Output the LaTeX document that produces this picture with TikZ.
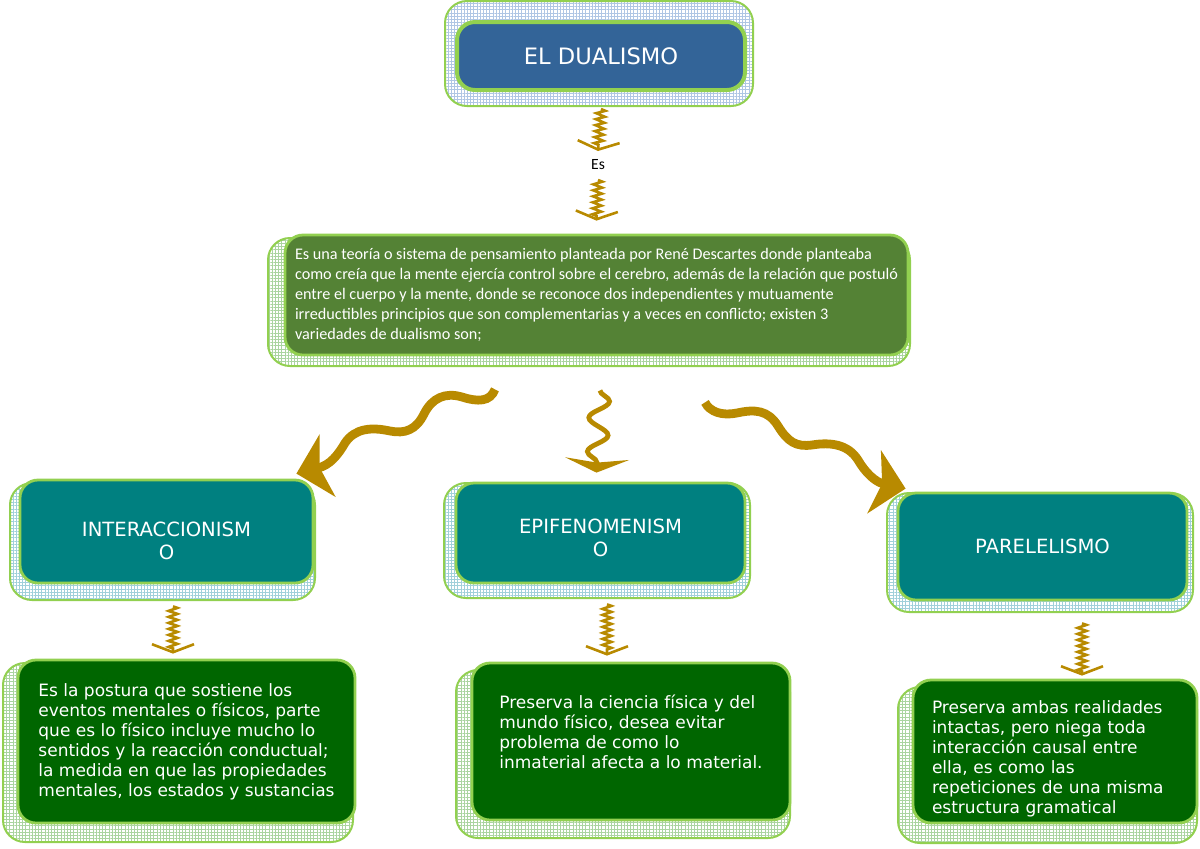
\documentclass[tikz,border=0pt]{standalone}
\usepackage{fontspec}
\setmainfont{DejaVu Sans}
\newfontfamily\calibri{Carlito}
\usetikzlibrary{arrows.meta,decorations.pathmorphing,patterns.meta}

\definecolor{lightgreen}{RGB}{146,208,80}
\definecolor{arrowgold}{RGB}{184,138,0}
\definecolor{titleblue}{RGB}{51,100,152}
\definecolor{olivegreen}{RGB}{84,130,53}
\definecolor{tealbox}{RGB}{0,128,128}
\definecolor{darkgreen}{RGB}{0,102,0}
\definecolor{hatchblue}{RGB}{175,198,228}
\definecolor{hatchteal}{RGB}{160,208,218}
\definecolor{hatchgreen}{RGB}{170,212,160}

\begin{document}
\begin{tikzpicture}[x=0.5pt,y=-0.5pt,
  back/.style={draw=lightgreen, line width=1pt, rounded corners=11pt,
    pattern={Hatch[distance=1.6pt,angle=0,line width=0.2pt]}},
  box/.style={draw=lightgreen, line width=1.4pt, rounded corners=9pt,
    text=white, inner sep=0pt, align=left},
  headbox/.style={box, fill=tealbox, align=center, text width=140pt,
    font=\fontsize{9.8pt}{11.5pt}\selectfont},
  defbox/.style={box, fill=darkgreen,
    font=\fontsize{8.5pt}{10pt}\selectfont},
  zz/.style={draw=arrowgold, line width=1.3pt, decorate,
    decoration={zigzag, segment length=3pt, amplitude=2.2pt, post length=2pt},
    -{Straight Barb[width=21pt,length=4pt]}},
  wave/.style={draw=arrowgold, line width=4.4pt,
    -{Stealth[length=16pt,width=32pt,inset=4pt]}},
  snakearrow/.style={draw=arrowgold, line width=2.4pt, decorate,
    decoration={snake, segment length=17pt, amplitude=5pt, post length=5pt},
    -{Stealth[length=7pt,width=32pt,inset=2pt]}}]

  \useasboundingbox (0,0) rectangle (1200,848);

  % hatched backs
  \draw[back, pattern color=hatchblue] (445,1) rectangle (753,106);
  \draw[back, pattern color=hatchgreen] (268,238) rectangle (910,366);
  \draw[back, pattern color=hatchteal] (10,483) rectangle (315,600);
  \draw[back, pattern color=hatchteal] (444,483) rectangle (750,598);
  \draw[back, pattern color=hatchteal] (887,493) rectangle (1193,612);
  \draw[back, pattern color=hatchgreen] (3,663) rectangle (353,842);
  \draw[back, pattern color=hatchgreen] (456,670) rectangle (790,838);
  \draw[back, pattern color=hatchgreen] (898,687) rectangle (1197,843);

  % boxes
  \node[box, fill=titleblue, line width=2pt, align=center,
    minimum width=144pt, minimum height=34pt,
    font=\fontsize{11.3pt}{13pt}\selectfont] (title) at (601,56) {EL DUALISMO};

  \node[font=\calibri\fontsize{7.8pt}{9pt}\selectfont] (es) at (598,165) {Es};

  \node[box, fill=olivegreen, minimum width=311.5pt, minimum height=60pt,
    font=\calibri\fontsize{8.1pt}{10pt}\selectfont] (desc) at (596.5,295)
    {Es una teoría o sistema de pensamiento planteada por René Descartes donde planteaba\\
     como creía que la mente ejercía control sobre el cerebro, además de la relación que postuló\\
     entre el cuerpo y la mente, donde se reconoce dos independientes y mutuamente\\
     irreductibles principios que son complementarias y a veces en conflicto; existen 3\\
     variedades de dualismo son;};

  \node[headbox, minimum width=146.5pt, minimum height=51.5pt, text height=17pt] (inter)
    at (166.5,531.5) {INTERACCIONISM\\O};
  \node[headbox, minimum width=144.5pt, minimum height=50pt, text height=12pt] (epi)
    at (600.5,533) {EPIFENOMENISM\\O};
  \node[headbox, minimum width=144.5pt, minimum height=53.5pt] (para)
    at (1042.5,546.5) {PARELELISMO};

  \node[defbox, minimum width=168.5pt, minimum height=81.5pt] (interdef)
    at (186.5,741.5)
    {Es la postura que sostiene los\\
     eventos mentales o físicos, parte\\
     que es lo físico incluye mucho lo\\
     sentidos y la reacción conductual;\\
     la medida en que las propiedades\\
     mentales, los estados y sustancias};
  \node[defbox, minimum width=159pt, minimum height=78.5pt] (epidef)
    at (631,741.5)
    {Preserva la ciencia física y del\\
     mundo físico, desea evitar\\
     problema de como lo\\
     inmaterial afecta a lo material.\\
     \mbox{}};
  \node[defbox, minimum width=142pt, minimum height=71.5pt,
    text width=123pt, text height=13.5pt] (paradef)
    at (1055,751.5)
    {Preserva ambas realidades\\
     intactas, pero niega toda\\
     interacción causal entre\\
     ella, es como las\\
     repeticiones de una misma\\
     estructura gramatical};

  % connectors
  \draw[zz] ([yshift=-8.5pt]title.south) -- ([yshift=7pt]es.center);
  \draw[zz] ([yshift=-7.5pt]es.center) -- ([yshift=6.5pt]desc.north);

  \draw[wave] ([shift={(-101.5,33)}]desc.south)
    .. controls (490,402) and (478,402) .. (462,397)
    .. controls (445,392) and (432,398) .. (424,414)
    .. controls (416,430) and (405,434) .. (390,431)
    .. controls (372,427) and (355,428) .. (345,443)
    .. controls (338,455) and (330,465) .. ([shift={(-18,-5)}]inter.north east);
  \draw[snakearrow] ([shift={(3.5,34)}]desc.south) -- ([shift={(-4,-9)}]epi.north);
  \draw[wave] ([shift={(108.5,46)}]desc.south)
    .. controls (710,412) and (722,416) .. (737,413)
    .. controls (755,409) and (768,410) .. (778,426)
    .. controls (788,442) and (796,447) .. (812,445)
    .. controls (830,442) and (848,444) .. (858,460)
    .. controls (865,472) and (875,482) .. ([shift={(9,-3)}]para.north west);

  \draw[zz] ([shift={(6.5,22)}]inter.south) -- ([shift={(-13.5,-5)}]interdef.north);
  \draw[zz] ([shift={(6.5,20)}]epi.south) -- ([shift={(-24,-6)}]epidef.north);
  \draw[zz] ([shift={(39.5,22)}]para.south) -- ([shift={(27,-3)}]paradef.north);
\end{tikzpicture}
\end{document}
